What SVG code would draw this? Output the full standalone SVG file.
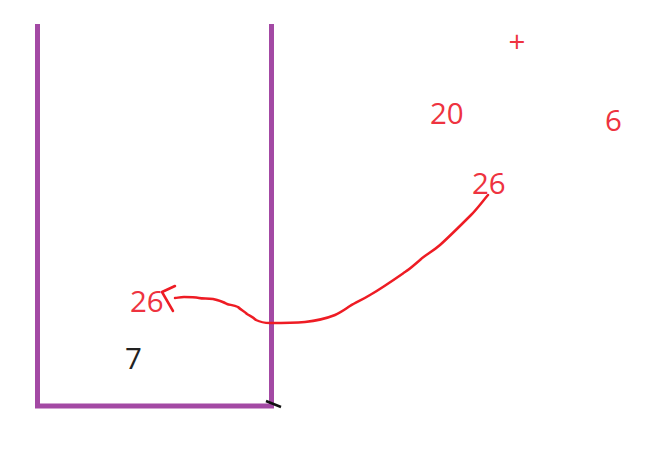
<svg xmlns="http://www.w3.org/2000/svg" width="658" height="466" viewBox="0 0 658 466">
<style>
.t{font-family:"Open Sans","Noto Sans",sans-serif;font-size:29.5px;fill:#ee3340}
.k{fill:#222}
.ink{fill:none;stroke:#ee1c24;stroke-width:2.5;stroke-linecap:round;stroke-linejoin:round}
.box{fill:none;stroke:#a349a4;stroke-width:5}
</style>
<rect width="658" height="466" fill="#fff"/>
<g id="container">
<path class="box" d="M37.5,24 V406 H271.5 V24"/>
<path d="M266,401 L281,407" stroke="#111" stroke-width="2.5" fill="none"/>
</g>
<g id="label-plus"><text class="t" x="517" y="52" font-size="23" text-anchor="middle">+</text></g>
<g id="label-20"><text class="t" x="430" y="124">20</text></g>
<g id="label-6"><text class="t" x="605" y="131">6</text></g>
<g id="label-26-top"><text class="t" x="472" y="194">26</text></g>
<g id="label-26-left"><text class="t" x="130" y="312">26</text></g>
<g id="label-7"><text class="t k" x="125" y="369">7</text></g>
<g id="connectors">
<path class="ink" d="M488,195 C482,202 477,209 471,215 C460,226 450,236 440,245 C432,252 425,255 420,260 C414,265 410,269 405,272 C392,281 382,288 370,295 C362,300 356,302 350,306 C344,310 340,313 335,315 C325,319 315,321 305,322 C293,323 281,323 270,323 C264,323 260,322 256,320 C252,316 250,316 247,314 C244,311 241,310 238,307 C234,305 230,305 227,304 C222,301 218,300 213,299 C208,298 203,299 199,298 C194,297 189,297 184,297 C180,297 177,298 175,298"/>
<path class="ink" d="M175,286 L162,292 L173,311"/>
</g>
</svg>
